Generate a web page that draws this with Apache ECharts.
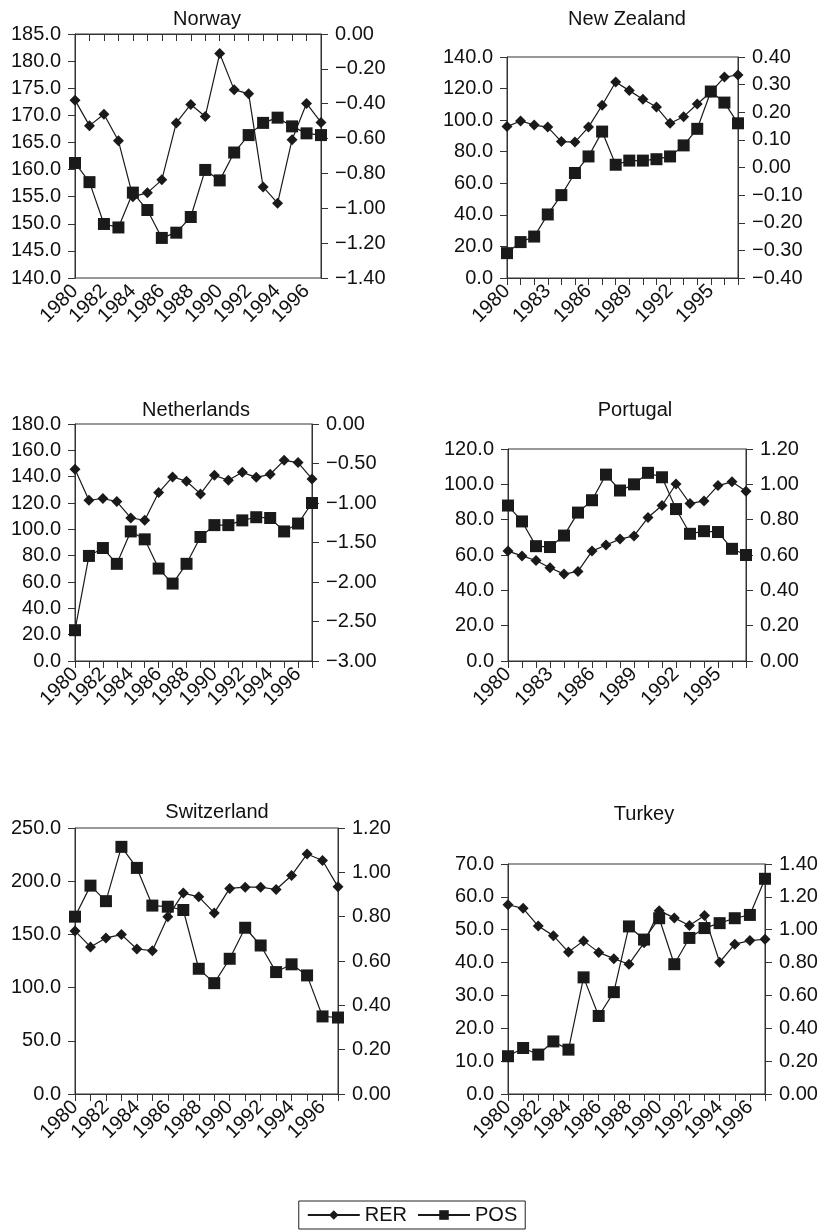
<!DOCTYPE html>
<html><head><meta charset="utf-8">
<script src="https://cdn.jsdelivr.net/npm/echarts@6/dist/echarts.min.js"></script>
<style>html,body{margin:0;padding:0;background:#fff}#c{width:824px;height:1232px}</style>
</head><body><div id="c"></div>
<script>
const years = ['1980','1981','1982','1983','1984','1985','1986','1987','1988','1989','1990','1991','1992','1993','1994','1995','1996','1997'];
const countries = ['Norway','New Zealand','Netherlands','Portugal','Switzerland','Turkey'];

const rerNorway = [172.8,168.1,170.2,165.3,155.0,155.7,158.1,168.6,172.0,169.8,181.4,174.7,174.0,156.8,153.8,165.5,172.2,168.7];
const posNorway = [-0.74,-0.85,-1.09,-1.11,-0.91,-1.01,-1.17,-1.14,-1.05,-0.78,-0.84,-0.68,-0.58,-0.51,-0.48,-0.53,-0.57,-0.58];
const rerNewZealand = [95.9,99.5,96.9,95.6,86.4,86.1,95.6,109.4,124.2,118.7,113.2,108.3,98.0,102.2,110.2,117.8,127.3,128.6];
const posNewZealand = [-0.31,-0.27,-0.25,-0.17,-0.10,-0.02,0.04,0.13,0.01,0.025,0.025,0.03,0.04,0.08,0.14,0.275,0.235,0.16];
const rerNetherlands = [145.6,122.1,123.4,121.1,108.7,106.9,127.9,139.8,136.5,126.9,141.0,137.3,143.3,139.5,141.8,152.4,150.7,138.3];
const posNetherlands = [-2.61,-1.67,-1.57,-1.77,-1.36,-1.46,-1.83,-2.02,-1.77,-1.43,-1.28,-1.28,-1.22,-1.18,-1.19,-1.36,-1.26,-1.00];
const rerPortugal = [62.2,59.5,56.9,52.8,49.2,50.7,62.2,65.7,69.0,70.8,81.2,88.0,100.2,89.1,90.6,99.3,101.4,96.1];
const posPortugal = [0.88,0.79,0.65,0.645,0.71,0.84,0.91,1.055,0.965,1.00,1.065,1.04,0.86,0.72,0.735,0.73,0.635,0.60];
const rerSwitzerland = [153.3,138.2,146.7,149.8,136.3,134.7,166.5,188.8,185.3,170.2,193.2,194.4,194.4,192.2,205.4,225.5,219.5,194.7];
const posSwitzerland = [0.80,0.94,0.87,1.115,1.02,0.85,0.845,0.83,0.565,0.50,0.61,0.75,0.67,0.55,0.585,0.535,0.35,0.345];
const rerTurkey = [57.6,56.5,51.1,48.2,43.2,46.6,43.1,41.2,39.5,46.0,55.8,53.6,51.3,54.3,40.1,45.6,46.7,47.1];
const posTurkey = [0.23,0.28,0.24,0.32,0.27,0.71,0.475,0.62,1.02,0.94,1.07,0.79,0.95,1.01,1.04,1.07,1.09,1.31];

const rerData = [rerNorway, rerNewZealand, rerNetherlands, rerPortugal, rerSwitzerland, rerTurkey];
const posData = [posNorway, posNewZealand, posNetherlands, posPortugal, posSwitzerland, posTurkey];
// left axis [min,max,interval], right axis [min,max,interval]
const leftAxes = [[140,185,5],[0,140,20],[0,180,20],[0,120,20],[0,250,50],[0,70,10]];
const rightAxes = [[-1.4,0,0.2],[-0.4,0.4,0.1],[-3,0,0.5],[0,1.2,0.2],[0,1.2,0.2],[0,1.4,0.2]];
const labelEvery = [2,3,2,3,2,2];

// layout (pixels)
const grids = [
  {left:75, top:34, width:246, height:244},
  {left:507, top:57, width:231, height:221},
  {left:75, top:424, width:237, height:237},
  {left:508, top:449, width:238, height:212},
  {left:75, top:828, width:263, height:266},
  {left:508, top:864, width:257, height:230}
];
const titlePos = [[202,16],[622,16],[191,407],[630,407],[212,809],[639,811]];

const FONT = 'Liberation Sans, Arial, sans-serif';
const FS = 20;
const INK = '#1a1a1a';
const fmt = d => v => { if (Math.abs(v) < 1e-9) v = 0; return v.toFixed(d).replace('-', '\u2212'); };

const option = {
  animation: false,
  backgroundColor: '#fff',
  textStyle: {fontFamily: FONT, color: '#111'},
  title: countries.map((c, i) => ({
    text: c, left: titlePos[i][0], top: titlePos[i][1] - 12, textAlign: 'center',
    textStyle: {fontFamily: FONT, fontSize: FS, fontWeight: 'normal', color: '#111'}
  })),
  grid: grids.map(g => Object.assign({show: true, borderColor: '#333', borderWidth: 1, containLabel: false}, g)),
  legend: {
    bottom: 3, left: 'center', data: ['RER','POS'],
    itemWidth: 52, itemHeight: 12, itemGap: 10,
    padding: [4, 8], borderColor: '#222', borderWidth: 1,
    textStyle: {fontFamily: FONT, fontSize: FS, color: '#111'}
  },
  xAxis: grids.map((g, i) => ({
    type: 'category', gridIndex: i, data: years, boundaryGap: false,
    axisLine: {lineStyle: {color: '#333', width: 1}},
    axisTick: {interval: 0, length: 7, lineStyle: {color: '#333'}},
    axisLabel: {
      interval: 0, rotate: 45, margin: 10, fontFamily: FONT, fontSize: FS, color: '#111',
      formatter: (v, idx) => (idx % labelEvery[i] === 0 ? v : '')
    },
    splitLine: {show: false}
  })),
  yAxis: [],
  series: []
};

grids.forEach((g, i) => {
  const L = leftAxes[i], R = rightAxes[i];
  option.yAxis.push({
    type: 'value', gridIndex: i, position: 'left', min: L[0], max: L[1], interval: L[2],
    axisLine: {show: true, lineStyle: {color: '#333'}},
    axisTick: {show: true, length: 7, lineStyle: {color: '#333'}},
    axisLabel: {formatter: fmt(1), margin: 14, fontFamily: FONT, fontSize: FS, color: '#111'},
    splitLine: {show: false}
  });
  option.yAxis.push({
    type: 'value', gridIndex: i, position: 'right', min: R[0], max: R[1], interval: R[2],
    axisLine: {show: true, lineStyle: {color: '#333'}},
    axisTick: {show: true, length: 7, lineStyle: {color: '#333'}},
    axisLabel: {formatter: fmt(2), margin: 14, fontFamily: FONT, fontSize: FS, color: '#111'},
    splitLine: {show: false}
  });
  option.series.push({
    name: 'RER', type: 'line', xAxisIndex: i, yAxisIndex: 2 * i, data: rerData[i],
    symbol: 'diamond', symbolSize: 11, showAllSymbol: true,
    lineStyle: {color: INK, width: 1.2}, itemStyle: {color: INK}, z: 2
  });
  option.series.push({
    name: 'POS', type: 'line', xAxisIndex: i, yAxisIndex: 2 * i + 1, data: posData[i],
    symbol: 'rect', symbolSize: 12, showAllSymbol: true,
    lineStyle: {color: INK, width: 1.2}, itemStyle: {color: INK}, z: 3
  });
});

const chart = echarts.init(document.getElementById('c'), null, {renderer: 'canvas'});
chart.setOption(option);
</script></body></html>
